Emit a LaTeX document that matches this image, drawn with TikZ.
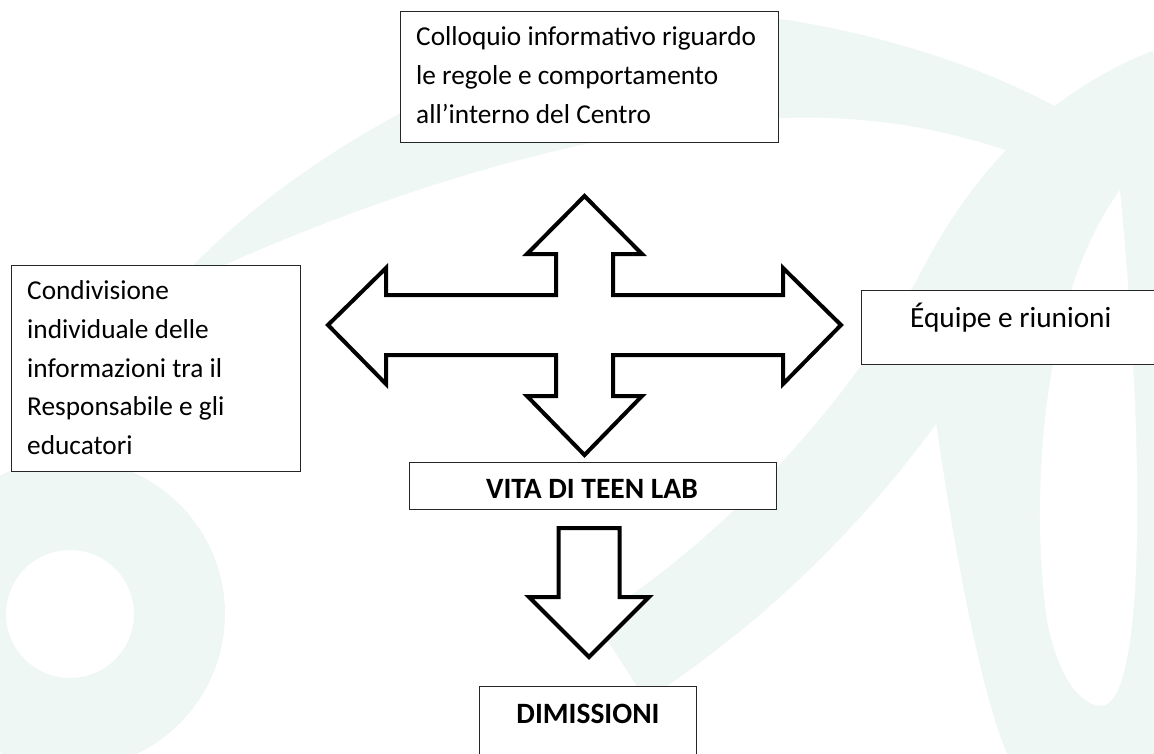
\documentclass[tikz,border=0pt]{standalone}
\usepackage{fontspec}
\setmainfont{Carlito}
\definecolor{wm}{HTML}{EFF7F5}
\begin{document}
\begin{tikzpicture}[x=1pt,y=-1pt,
  box/.style={draw=black!85, line width=1.3pt, fill=white, inner sep=0pt, anchor=north west},
  txt/.style={anchor=north west, inner sep=0pt, align=left, font=\fontsize{27.3}{38.7}\selectfont},
  onetxt/.style={inner sep=0pt, font=\fontsize{29.3}{34}\selectfont},
  boldtxt/.style={inner sep=0pt, anchor=base, font=\fontsize{29.5}{34}\selectfont\bfseries},
  blockarrow/.style={draw=black, line width=4pt, fill=white, line join=miter}]
\useasboundingbox (0,0) rectangle (1154,753);
% ---- faint watermark ----
\begin{scope}
\clip (0,0) rectangle (1154,753);
\fill[wm, even odd rule] (70,614) circle[radius=155pt] (70,614) circle[radius=64pt];
\fill[wm] (170,290) .. controls (330,110) and (620,-10) .. (800,22)
  .. controls (930,45) and (1020,85) .. (1080,120) -- (1060,170)
  .. controls (960,130) and (880,115) .. (780,118)
  .. controls (600,125) and (380,190) .. cycle;
\draw[wm, line width=95pt] (620,660) .. controls (760,570) and (880,440) .. (960,300)
  .. controls (1010,200) and (1080,130) .. (1170,95);
\fill[wm] (930,380) .. controls (960,600) and (990,720) .. (1010,760) -- (1160,760) -- (1160,120) -- (1060,150) -- cycle;
\fill[white] (1120,190) .. controls (1040,300) and (1030,500) .. (1047,620)
  .. controls (1060,690) and (1090,710) .. (1105,705)
  .. controls (1145,690) and (1145,450) .. cycle;
\end{scope}
% ---- boxes ----
\node[box, minimum width=378pt, minimum height=131pt] (colloquio) at (400,11) {};
\node[txt] (colloquiotxt) at (416,18.4)
  {\strut Colloquio informativo riguardo\\\strut le regole e comportamento\\\strut all’interno del Centro};
\node[box, minimum width=289pt, minimum height=206pt] (condivisione) at (11,265) {};
\node[txt] (condivisionetxt) at (27,272.4)
  {\strut Condivisione\\\strut individuale delle\\\strut informazioni tra il\\\strut Responsabile e gli\\\strut educatori};
\node[box, minimum width=310pt, minimum height=74pt] (equipe) at (861,290) {};
\node[onetxt, anchor=base west] (equipetxt) at (910,327) {Équipe e riunioni};
\node[box, minimum width=367pt, minimum height=47pt] (vita) at (409,462) {};
\node[boldtxt] (vitatxt) at (592,498) {VITA DI TEEN LAB};
\node[box, minimum width=217pt, minimum height=90pt] (dimissioni) at (479,686) {};
\node[boldtxt] (dimissionitxt) at (588,723) {DIMISSIONI};
% ---- four-way block arrow ----
\coordinate (cross) at (584.5,325);
\begin{scope}[shift={(cross)}]
\draw[blockarrow] (0,-129) -- (57.5,-71) -- (28.5,-71) -- (28.5,-30) -- (198.5,-30)
  -- (198.5,-57) -- (256.5,0) -- (198.5,59) -- (198.5,30) -- (28.5,30) -- (28.5,71)
  -- (57.5,71) -- (0,130) -- (-57.5,71) -- (-28.5,71) -- (-28.5,30) -- (-198.5,30)
  -- (-198.5,59) -- (-256.5,0) -- (-198.5,-57) -- (-198.5,-30) -- (-28.5,-30)
  -- (-28.5,-71) -- (-57.5,-71) -- cycle;
\end{scope}
% ---- down block arrow ----
\coordinate (down) at (589,528);
\begin{scope}[shift={(down)}]
\draw[blockarrow] (-30.5,0) -- (30.5,0) -- (30.5,69) -- (60,69) -- (0,129)
  -- (-60,69) -- (-30.5,69) -- cycle;
\end{scope}
\end{tikzpicture}
\end{document}
